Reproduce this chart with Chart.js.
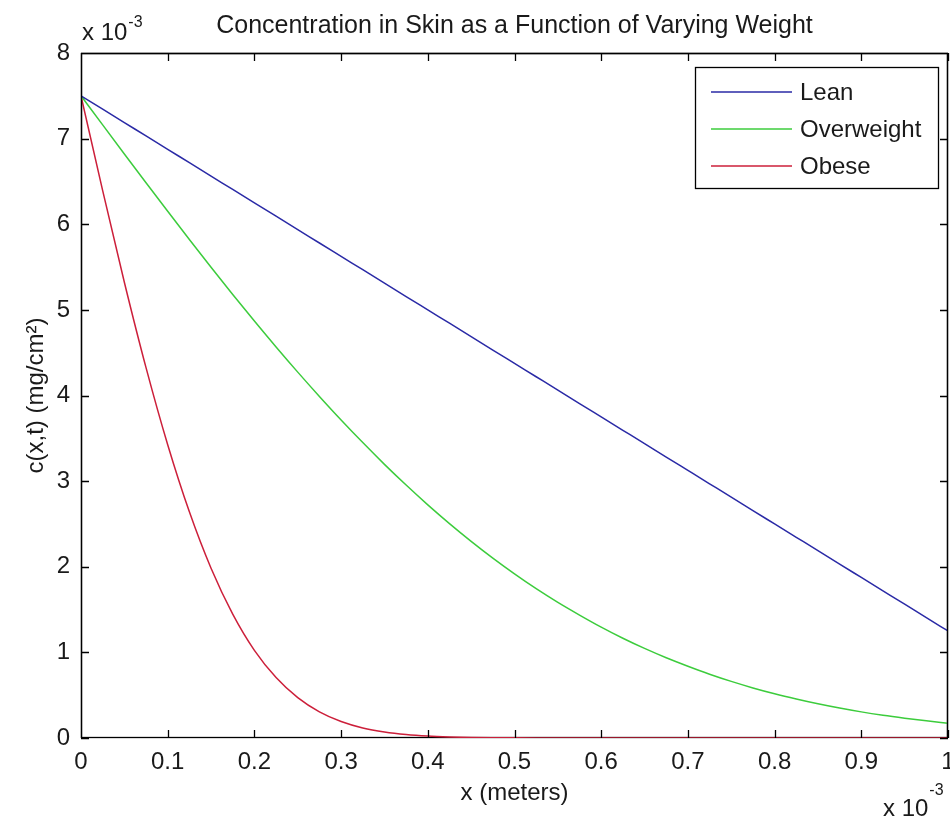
<!DOCTYPE html>
<html><head><meta charset="utf-8">
<script src="https://cdn.jsdelivr.net/npm/chart.js@4/dist/chart.umd.min.js"></script>
<style>html,body{margin:0;padding:0;background:#fff}#wrap{width:950px;height:820px}</style>
</head><body><div id="wrap"><canvas id="c" width="950" height="820"></canvas></div>
<script>
// x positions (units of 1e-3 m)
const xValues = [0,0.025,0.05,0.075,0.1,0.125,0.15,0.175,0.2,0.225,0.25,0.275,0.3,0.325,0.35,0.375,0.4,0.425,0.45,0.475,0.5,0.525,0.55,0.575,0.6,0.625,0.65,0.675,0.7,0.725,0.75,0.775,0.8,0.825,0.85,0.875,0.9,0.925,0.95,0.975,1.0];
// concentrations (units of 1e-3 mg/cm^2)
const leanValues = [7.5,7.344,7.188,7.031,6.875,6.719,6.563,6.406,6.25,6.094,5.938,5.781,5.625,5.469,5.313,5.156,5.0,4.844,4.688,4.531,4.375,4.219,4.063,3.906,3.75,3.594,3.438,3.281,3.125,2.969,2.813,2.656,2.5,2.344,2.188,2.031,1.875,1.719,1.563,1.406,1.25];
const overweightValues = [7.5,7.160,6.821,6.484,6.151,5.822,5.498,5.180,4.870,4.567,4.273,3.989,3.714,3.450,3.196,2.954,2.723,2.504,2.297,2.101,1.917,1.744,1.584,1.436,1.295,1.165,1.046,0.937,0.838,0.745,0.661,0.585,0.517,0.456,0.400,0.350,0.305,0.266,0.232,0.201,0.172];
const obeseValues = [7.5,6.393,5.323,4.325,3.425,2.641,1.982,1.447,1.024,0.706,0.471,0.305,0.192,0.117,0.070,0.040,0.022,0.012,0.006,0.003,0.0015,0.0007,0.0003,0,0,0,0,0,0,0,0,0,0,0,0,0,0,0,0,0,0];
const seriesNames = ['Lean','Overweight','Obese'];
const seriesColors = ['#2a2aa6','#3ccc3c','#cc1f3a'];
const xTickValues = [0,0.1,0.2,0.3,0.4,0.5,0.6,0.7,0.8,0.9,1];
const yTickValues = [0,1,2,3,4,5,6,7,8];
const chartTitle = 'Concentration in Skin as a Function of Varying Weight';
const xAxisTitle = 'x (meters)';
const yAxisTitle = 'c(x,t) (mg/cm²)';
const exponentBase = 'x 10';
const exponentPower = '-3';

const FONT = "'Liberation Sans', Arial, Helvetica, sans-serif";
const TEXT = '#1a1a1a';

function toPoints(ys){ return xValues.map((x,i)=>({x:x,y:ys[i]})); }

const framePlugin = {
  id:'frame',
  beforeDatasetsDraw(chart){
    const ctx = chart.ctx, a = chart.chartArea;
    ctx.save();
    ctx.strokeStyle = '#000'; ctx.lineWidth = 1.3;
    ctx.strokeRect(a.left+0.5, a.top+0.5, a.right-a.left-1, a.bottom-a.top-1);
    ctx.restore();
  },
  afterDraw(chart){
    const ctx = chart.ctx, a = chart.chartArea;
    const xs = chart.scales.x, ys = chart.scales.y;
    ctx.save();
    ctx.strokeStyle = '#000'; ctx.lineWidth = 1.3;
    const tl = 8;
    ctx.beginPath();
    xTickValues.forEach(v=>{
      const px = Math.round(xs.getPixelForValue(v))+0.5;
      ctx.moveTo(px,a.bottom); ctx.lineTo(px,a.bottom-tl);
      ctx.moveTo(px,a.top); ctx.lineTo(px,a.top+tl);
    });
    yTickValues.forEach(v=>{
      const py = Math.round(ys.getPixelForValue(v))+0.5;
      ctx.moveTo(a.left,py); ctx.lineTo(a.left+tl,py);
      ctx.moveTo(a.right,py); ctx.lineTo(a.right-tl,py);
    });
    ctx.moveTo(a.left+0.5,a.top); ctx.lineTo(a.left+0.5,a.bottom);
    ctx.moveTo(a.left,a.top+0.5); ctx.lineTo(a.right,a.top+0.5);
    ctx.moveTo(a.right-0.5,a.top); ctx.lineTo(a.right-0.5,a.bottom);
    ctx.stroke();

    // titles
    ctx.fillStyle = TEXT;
    ctx.textAlign='center'; ctx.textBaseline='alphabetic';
    ctx.font = '25px '+FONT;
    ctx.fillText(chartTitle, (a.left+a.right)/2, 33);
    ctx.font = '24px '+FONT;
    ctx.fillText(xAxisTitle, (a.left+a.right)/2, 800);
    ctx.save();
    ctx.translate(43,(a.top+a.bottom)/2);
    ctx.rotate(-Math.PI/2);
    ctx.fillText(yAxisTitle,0,0);
    ctx.restore();

    // exponent labels
    ctx.textAlign='left';
    ctx.font='24px '+FONT;
    ctx.fillText(exponentBase, 82, 40);
    let w = ctx.measureText(exponentBase).width;
    ctx.font='16px '+FONT;
    ctx.fillText(exponentPower, 82+w+1, 27);
    ctx.font='24px '+FONT;
    ctx.fillText(exponentBase, 883, 816);
    w = ctx.measureText(exponentBase).width;
    ctx.font='16px '+FONT;
    ctx.fillText(exponentPower, 883+w+1, 795);

    // legend
    const bw=243, bh=121;
    const bx = a.right-10-bw, by = a.top+14;
    ctx.fillStyle='#fff';
    ctx.fillRect(bx,by,bw,bh);
    ctx.strokeStyle='#000'; ctx.lineWidth=1.3;
    ctx.strokeRect(bx+0.5,by+0.5,bw,bh);
    ctx.font='24px '+FONT;
    ctx.textBaseline='middle';
    chart.data.datasets.forEach((ds,i)=>{
      const yy = by+25+i*37;
      ctx.strokeStyle=ds.borderColor; ctx.lineWidth=1.5;
      ctx.beginPath(); ctx.moveTo(bx+16,yy); ctx.lineTo(bx+97,yy); ctx.stroke();
      ctx.fillStyle=TEXT;
      ctx.fillText(ds.label,bx+105,yy+1);
    });
    ctx.restore();
  }
};

new Chart(document.getElementById('c'),{
  type:'line',
  data:{datasets:[
    {label:seriesNames[0],data:toPoints(leanValues),borderColor:seriesColors[0]},
    {label:seriesNames[1],data:toPoints(overweightValues),borderColor:seriesColors[1]},
    {label:seriesNames[2],data:toPoints(obeseValues),borderColor:seriesColors[2]}
  ]},
  options:{
    responsive:false, animation:false, devicePixelRatio:1,
    layout:{padding:{left:0,right:2,top:53,bottom:0}},
    elements:{point:{radius:0},line:{borderWidth:1.5,cubicInterpolationMode:'monotone',fill:false}},
    plugins:{legend:{display:false},tooltip:{enabled:false},title:{display:false}},
    scales:{
      x:{type:'linear',min:0,max:1,
        afterBuildTicks(s){ s.ticks = xTickValues.map(v=>({value:v})); },
        ticks:{font:{size:24,family:FONT},color:TEXT,padding:10,maxRotation:0,autoSkip:false,
          callback:v=>String(Math.round(v*10)/10)},
        grid:{display:false,drawTicks:false},border:{display:false},
        afterFit(s){ s.height=82; s.paddingLeft=0; s.paddingRight=0; }
      },
      y:{type:'linear',min:0,max:8,
        afterBuildTicks(s){ s.ticks = yTickValues.map(v=>({value:v})); },
        ticks:{font:{size:24,family:FONT},color:TEXT,padding:11,autoSkip:false,
          callback:v=>String(v)},
        grid:{display:false,drawTicks:false},border:{display:false},
        afterFit(s){ s.width=81; s.paddingTop=0; s.paddingBottom=0; }
      }
    }
  },
  plugins:[framePlugin]
});
</script></body></html>
